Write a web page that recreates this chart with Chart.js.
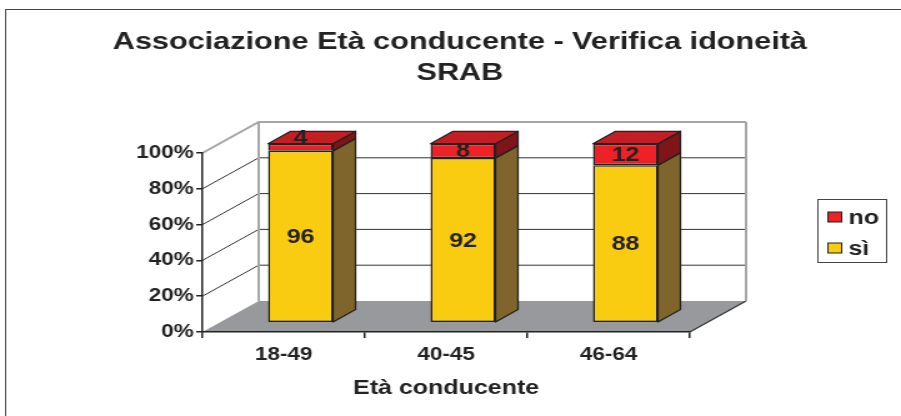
<!DOCTYPE html>
<html>
<head>
<meta charset="utf-8">
<script src="https://cdn.jsdelivr.net/npm/chart.js@4/dist/chart.umd.min.js"></script>
<style>
body { margin: 0; background: #fff; }
canvas { display: block; }
</style>
</head>
<body>
<!-- the original picture is stretched sideways, so the canvas is drawn narrow and widened by css -->
<canvas id="chart" width="721" height="416" style="width:901px;height:416px"></canvas>
<script>
var categories = ["18-49", "40-45", "46-64"];
var siValues = [96, 92, 88];
var noValues = [4, 8, 12];
var seriesNames = ["sì", "no"];
var yTicks = [0, 20, 40, 60, 80, 100];
var chartTitle = ["Associazione Età conducente - Verifica idoneità", "SRAB"];
var axisTitle = "Età conducente";

var FONT = "'Liberation Sans', Arial, sans-serif";
var INK = '#222';
var yellow = { front: '#f9cc12', side: '#7f652b', top: '#c9a40e' };
var red = { front: '#ee2127', side: '#7e1518', top: '#c21f24' };
var colors = [yellow, red];

// depth of the 3d box and where the bars sit inside it
var DX = 45, DY = -31;
var FRONT = 0.3, DEPTH = 0.4;

var box3d = {
  id: 'box3d',
  beforeDraw: function(chart) {
    var ctx = chart.ctx, a = chart.chartArea, y = chart.scales.y;
    ctx.save();
    // outer frame
    ctx.strokeStyle = '#444';
    ctx.lineWidth = 1;
    ctx.strokeRect(4.5, 9.5, 900, 600);

    // floor
    ctx.fillStyle = '#98999d';
    ctx.beginPath();
    ctx.moveTo(a.left, a.bottom);
    ctx.lineTo(a.right, a.bottom);
    ctx.lineTo(a.right + DX, a.bottom + DY);
    ctx.lineTo(a.left + DX, a.bottom + DY);
    ctx.closePath();
    ctx.fill();
    ctx.strokeStyle = '#333';
    ctx.lineWidth = 1.2;
    ctx.beginPath();
    ctx.moveTo(a.right, a.bottom);
    ctx.lineTo(a.right + DX, a.bottom + DY);
    ctx.stroke();

    // walls and grid lines
    yTicks.forEach(function(v) {
      if (v === 0) return;
      var py = y.getPixelForValue(v);
      var edge = v === y.max;
      ctx.strokeStyle = edge ? '#a6a6a6' : '#333';
      ctx.lineWidth = edge ? 2 : 1;
      ctx.beginPath();
      ctx.moveTo(a.left, py);
      ctx.lineTo(a.left + DX, py + DY);
      ctx.lineTo(a.right + DX, py + DY);
      ctx.stroke();
    });
    ctx.strokeStyle = '#a6a6a6';
    ctx.lineWidth = 2;
    ctx.beginPath();
    ctx.moveTo(a.left + DX, a.top + DY);
    ctx.lineTo(a.left + DX, a.bottom + DY);
    ctx.moveTo(a.right + DX, a.top + DY);
    ctx.lineTo(a.right + DX, a.bottom + DY);
    ctx.stroke();
    ctx.restore();
  },
  beforeDatasetsDraw: function(chart) {
    chart.ctx.save();
    chart.ctx.translate(DX * FRONT, DY * FRONT);
  },
  afterDatasetsDraw: function(chart) {
    var ctx = chart.ctx;
    ctx.restore();
    ctx.save();
    ctx.translate(DX * FRONT, DY * FRONT);
    var bx = DX * DEPTH, by = DY * DEPTH;
    ctx.strokeStyle = INK;
    ctx.lineWidth = 1.3;
    ctx.lineJoin = 'round';
    var last = chart.data.datasets.length - 1;
    chart.data.datasets.forEach(function(ds, i) {
      chart.getDatasetMeta(i).data.forEach(function(el) {
        var L = el.x - el.width / 2, R = el.x + el.width / 2;
        var top = Math.min(el.y, el.base), bot = Math.max(el.y, el.base);
        ctx.fillStyle = colors[i].side;
        ctx.beginPath();
        ctx.moveTo(R, top);
        ctx.lineTo(R + bx, top + by);
        ctx.lineTo(R + bx, bot + by);
        ctx.lineTo(R, bot);
        ctx.closePath();
        ctx.fill();
        ctx.stroke();
        if (i === last) {
          ctx.fillStyle = colors[i].top;
          ctx.beginPath();
          ctx.moveTo(L, top);
          ctx.lineTo(L + bx, top + by);
          ctx.lineTo(R + bx, top + by);
          ctx.lineTo(R, top);
          ctx.closePath();
          ctx.fill();
          ctx.stroke();
        }
      });
    });
    // value labels
    ctx.fillStyle = INK;
    ctx.font = 'bold 20px ' + FONT;
    ctx.textAlign = 'center';
    ctx.textBaseline = 'middle';
    chart.data.datasets.forEach(function(ds, i) {
      chart.getDatasetMeta(i).data.forEach(function(el, j) {
        var top = Math.min(el.y, el.base), bot = Math.max(el.y, el.base);
        var cy = (top + bot) / 2;
        if (bot - top < 10) cy = top - 6;
        ctx.fillText(String(ds.data[j]), el.x, cy + 1);
      });
    });
    ctx.restore();
  },
  afterDraw: function(chart) {
    var ctx = chart.ctx;
    ctx.save();
    ctx.fillStyle = INK;
    ctx.textAlign = 'center';
    ctx.textBaseline = 'middle';
    ctx.font = 'bold 24.5px ' + FONT;
    ctx.fillText(chartTitle[0], 368, 42);
    ctx.fillText(chartTitle[1], 368, 73);

    // legend, top series first
    ctx.strokeStyle = '#444';
    ctx.lineWidth = 1;
    ctx.strokeRect(654.5, 199.5, 55, 63);
    ctx.font = 'bold 20px ' + FONT;
    ctx.textAlign = 'left';
    var rows = [1, 0];
    rows.forEach(function(i, k) {
      var cy = 217 + k * 31;
      ctx.fillStyle = colors[i].front;
      ctx.fillRect(662.5, cy - 5, 11, 10);
      ctx.strokeStyle = INK;
      ctx.strokeRect(662.5, cy - 5, 11, 10);
      ctx.fillStyle = INK;
      ctx.fillText(chart.data.datasets[i].label, 679, cy + 1);
    });
    ctx.restore();
  }
};

new Chart(document.getElementById('chart'), {
  type: 'bar',
  data: {
    labels: categories,
    datasets: [
      { label: seriesNames[0], data: siValues, backgroundColor: yellow.front, borderColor: INK, borderWidth: 1.5, borderSkipped: false },
      { label: seriesNames[1], data: noValues, backgroundColor: red.front, borderColor: INK, borderWidth: 1.5, borderSkipped: false }
    ]
  },
  options: {
    responsive: false,
    animation: false,
    devicePixelRatio: 1,
    layout: { padding: { left: 0, top: 153, right: 169, bottom: 0 } },
    datasets: { bar: { barPercentage: 0.4, categoryPercentage: 1 } },
    plugins: {
      legend: { display: false },
      title: { display: false },
      tooltip: { enabled: false }
    },
    scales: {
      x: {
        stacked: true,
        grid: { offset: true, drawOnChartArea: false, tickLength: 6, color: INK, lineWidth: 1.5 },
        border: { color: INK, width: 1.5 },
        ticks: { color: INK, padding: 6, font: { family: FONT, size: 18, weight: 'bold' } },
        title: { display: true, text: axisTitle, color: INK, padding: { top: 0, bottom: 16 },
                 font: { family: FONT, size: 20, weight: 'bold' } },
        afterFit: function(s) { s.height = 84; s.paddingLeft = 0; s.paddingRight = 0; }
      },
      y: {
        stacked: true,
        min: 0,
        max: 100,
        afterBuildTicks: function(s) { s.ticks = yTicks.map(function(v) { return { value: v }; }); },
        grid: { drawOnChartArea: false, tickLength: 5, color: INK, lineWidth: 1.5 },
        border: { color: INK, width: 1.5 },
        ticks: { color: INK, padding: 2, font: { family: FONT, size: 18, weight: 'bold' },
                 callback: function(v) { return v + '%'; } },
        afterFit: function(s) { s.width = 162; s.paddingTop = 0; s.paddingBottom = 0; }
      }
    }
  },
  plugins: [box3d]
});
</script>
</body>
</html>
